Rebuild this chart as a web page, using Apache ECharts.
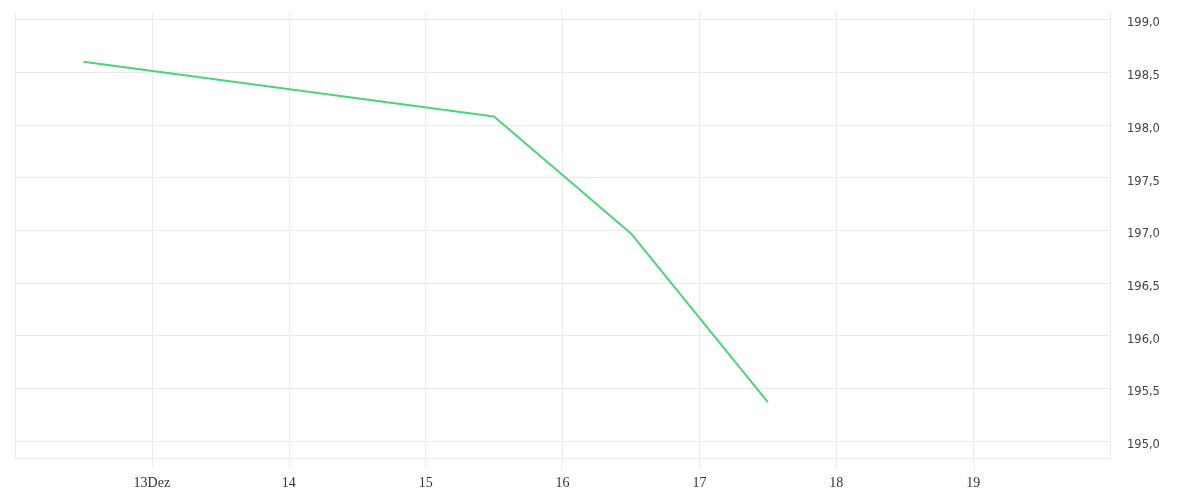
<!DOCTYPE html>
<html>
<head>
<meta charset="utf-8">
<script src="https://cdn.jsdelivr.net/npm/echarts@6/dist/echarts.min.js"></script>
<style>html,body{margin:0;padding:0;background:#fff}#c{width:1200px;height:500px}</style>
</head>
<body>
<div id="c"></div>
<script>
// x values are days of December (12.5 = 12 Dez 12:00)
const dayPositions = [12.5, 15.5, 16.5, 17.5];
const prices = [198.60, 198.08, 196.97, 195.37];
const xTickLabels = {13: '13Dez', 14: '14', 15: '15', 16: '16', 17: '17', 18: '18', 19: '19'};
const yTicks = [195.0, 195.5, 196.0, 196.5, 197.0, 197.5, 198.0, 198.5, 199.0];

const chart = echarts.init(document.getElementById('c'));
const gridColor = '#ebebeb';
chart.setOption({
  animation: false,
  grid: [
    {left: 15, right: 90, top: 19.5, bottom: 59},
    {left: 15, right: 90, top: 12, bottom: 42}
  ],
  xAxis: [
    {gridIndex: 0, type: 'value', min: 12, max: 20, interval: 1, show: false},
    {gridIndex: 1, type: 'value', min: 12, max: 20, interval: 1,
      axisLine: {show: true, onZero: false, lineStyle: {color: gridColor, width: 1}},
      axisTick: {show: true, inside: false, length: 10, lineStyle: {color: gridColor, width: 1}},
      splitLine: {show: true, lineStyle: {color: gridColor}},
      axisLabel: {color: '#333', fontFamily: 'Liberation Serif', fontSize: 14, margin: 18,
        showMinLabel: false, showMaxLabel: false,
        formatter: v => xTickLabels[Math.round(v)] || ''}
    }
  ],
  yAxis: [
    {gridIndex: 0, type: 'value', position: 'right', min: yTicks[0], max: yTicks[yTicks.length - 1], interval: 0.5,
      axisLine: {show: false}, axisTick: {show: false},
      splitLine: {show: true, lineStyle: {color: gridColor}},
      axisLabel: {color: '#444', fontFamily: 'DejaVu Sans', fontSize: 11.5, margin: 17,
        verticalAlign: 'top', lineHeight: 8,
        formatter: v => v.toFixed(1).replace('.', ',')}
    },
    {gridIndex: 1, type: 'value', min: 0, max: 1, show: false}
  ],
  series: [{
    type: 'line',
    xAxisIndex: 0, yAxisIndex: 0,
    data: dayPositions.map((x, i) => [x, prices[i]]),
    showSymbol: false,
    lineStyle: {color: '#4cd47a', width: 2},
    itemStyle: {color: '#4cd47a'}
  }]
});
</script>
</body>
</html>
